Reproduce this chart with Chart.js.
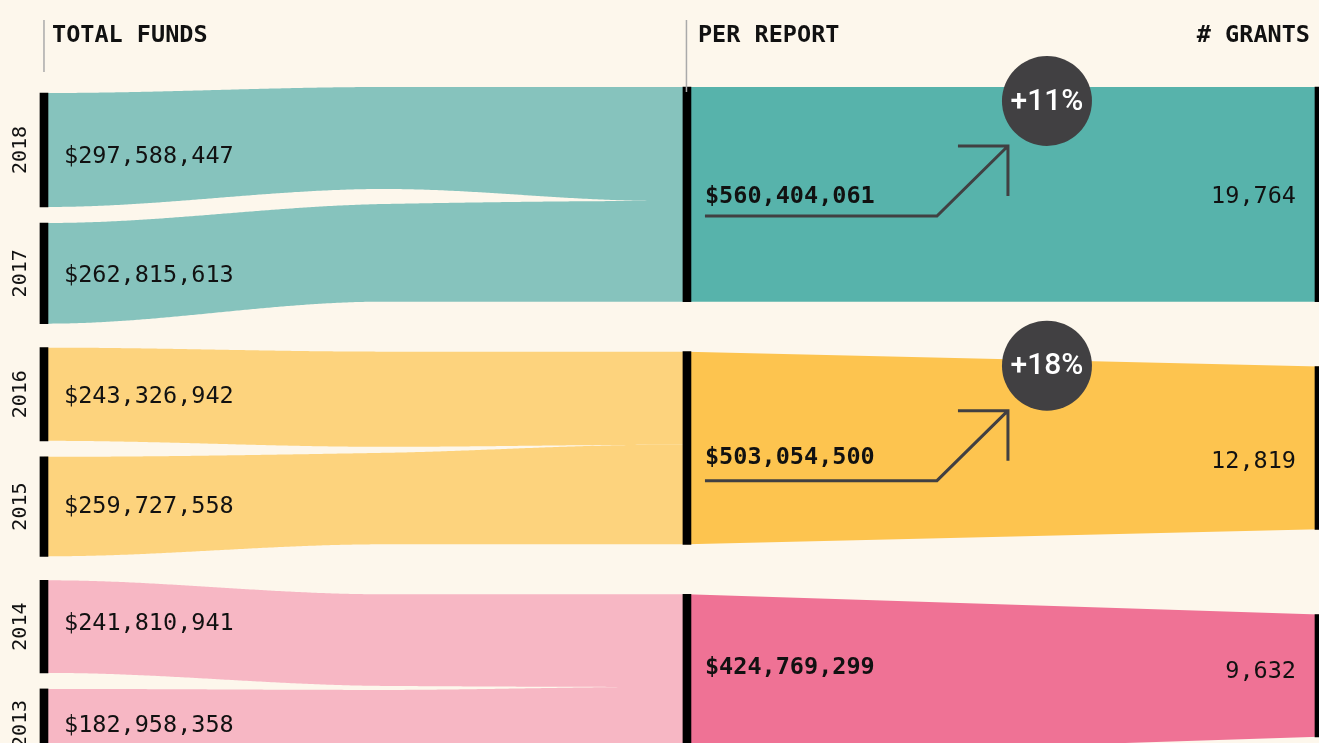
<!DOCTYPE html>
<html>
<head>
<meta charset="utf-8">
<script src="https://cdn.jsdelivr.net/npm/chart.js@4.4.1/dist/chart.umd.min.js"></script>
<style>
  html, body { margin: 0; padding: 0; background: #fdf7ec; }
  #wrap { width: 1319px; height: 743px; position: relative; }
</style>
</head>
<body>
<div id="wrap"><canvas id="sankey"></canvas></div>
<script>
// values
const years = ['2018', '2017', '2016', '2015', '2014', '2013'];
const totalFunds = [297588447, 262815613, 243326942, 259727558, 241810941, 182958358];
const perReport = [560404061, 503054500, 424769299];
const grants = [19764, 12819, 9632];
const headers = ['TOTAL FUNDS', 'PER REPORT', '# GRANTS'];

const lightColors = ['#86c3bd', '#fdd37d', '#f7b7c4'];
const darkColors = ['#57b3ab', '#fdc44f', '#ef7295'];
const ink = '#111';
const badgeColor = '#414042';

// layout (pixels converted to value units through K)
const K = 0.383;                 // px per million dollars
const toVal = p => p / K;
const M = v => v / 1e6;
const Y_MAX = toVal(743);
const LEFT_TOP = 93, PAIR_GAP = 16, GROUP_GAP = 24;
const MID_TOP = 87, MID_GAP = 50;
const GRANT_PX = 0.0127;
const X_COL = [0, 1, 1.983];
const X_WAIST = 0.53, X_CLOSE = 0.965;
const waistGap = [15, 6, 4];
const waistDrop = [3, 8, 3];
const leftLabelShift = [5, 0, 0, -2, -5, 0];
const midLabelShift = [0, 8, -10];
const rightLabelShift = [0, 12, -6];

// node ranges in value units
const leftNodes = [];
let cur = toVal(LEFT_TOP);
totalFunds.forEach((v, i) => {
    const h = M(v);
    leftNodes.push([cur, cur + h]);
    cur += h + toVal(i % 2 === 0 ? PAIR_GAP : GROUP_GAP);
});

const midNodes = [];
cur = toVal(MID_TOP);
perReport.forEach(v => {
    const h = M(v);
    midNodes.push([cur, cur + h]);
    cur += h + toVal(MID_GAP);
});

const rightNodes = grants.map((g, i) => {
    const [a, b] = midNodes[i];
    const h = Math.min(b - a, toVal(g * GRANT_PX));
    const c = (a + b) / 2;
    return [c - h / 2, c + h / 2];
});

// where each year's flow lands on the middle column
const linkTargets = totalFunds.map((v, i) => {
    const g = Math.floor(i / 2);
    const [a, b] = midNodes[g];
    if (i % 2 === 0) return [a, a + M(v)];
    return [a + M(totalFunds[i - 1]), b];
});

const fmt = n => n.toLocaleString('en-US');

// smooth monotone curve through a few [x, y] knots, flat outside them
function smoothEdge(pts) {
    const n = pts.length;
    const d = [], m = [];
    for (let i = 0; i < n - 1; i++) d.push((pts[i + 1][1] - pts[i][1]) / (pts[i + 1][0] - pts[i][0]));
    for (let i = 0; i < n; i++) {
        if (i === 0 || i === n - 1) { m.push(0); continue; }
        const a = d[i - 1], b = d[i];
        m.push(a * b > 0 ? 2 * a * b / (a + b) : 0);
    }
    return x => {
        if (x <= pts[0][0]) return pts[0][1];
        if (x >= pts[n - 1][0]) return pts[n - 1][1];
        let i = 0;
        while (x > pts[i + 1][0]) i++;
        const h = pts[i + 1][0] - pts[i][0];
        const t = (x - pts[i][0]) / h;
        const t2 = t * t, t3 = t2 * t;
        return (2 * t3 - 3 * t2 + 1) * pts[i][1] + (t3 - 2 * t2 + t) * h * m[i]
            + (-2 * t3 + 3 * t2) * pts[i + 1][1] + (t3 - t2) * h * m[i + 1];
    };
}

function fillBand(ctx, xs, xe, top, bottom, color) {
    ctx.beginPath();
    ctx.moveTo(xs, top(xs));
    for (let xx = xs; xx <= xe; xx += 2) ctx.lineTo(xx, top(xx));
    ctx.lineTo(xe, top(xe));
    ctx.lineTo(xe, bottom(xe));
    for (let xx = xe; xx >= xs; xx -= 2) ctx.lineTo(xx, bottom(xx));
    ctx.lineTo(xs, bottom(xs));
    ctx.closePath();
    ctx.fillStyle = color;
    ctx.fill();
}

// flows from the yearly column to the middle column
const linkPlugin = {
    id: 'links',
    beforeDatasetsDraw(chart) {
        const {ctx, scales: {x, y}} = chart;
        const cL = x.getPixelForValue(X_COL[0]);
        const cM = x.getPixelForValue(X_COL[1]);
        const x0 = cL + 4, x1 = cM - 4;
        const xw = x0 + X_WAIST * (x1 - x0);
        const xc = x0 + X_CLOSE * (x1 - x0);
        const px = r => r.map(v => y.getPixelForValue(v));

        ctx.save();
        perReport.forEach((tot, g) => {
            const u = 2 * g, l = 2 * g + 1;
            const sU = px(leftNodes[u]), sL = px(leftNodes[l]);
            const tU = px(linkTargets[u]), tL = px(linkTargets[l]);
            const lTopW = tL[0] + waistDrop[g];
            const uTop = smoothEdge([[x0, sU[0]], [xw, tU[0]]]);
            const uBot = smoothEdge([[x0, sU[1]], [xw, lTopW - waistGap[g]], [xc, tU[1]]]);
            const lTop = smoothEdge([[x0, sL[0]], [xw, lTopW], [xc, tL[0]]]);
            const lBot = smoothEdge([[x0, sL[1]], [xw, tL[1]]]);
            fillBand(ctx, cL, cM, uTop, uBot, lightColors[g]);
            fillBand(ctx, cL, cM, lTop, lBot, lightColors[g]);
        });
        ctx.restore();
    }
};

// texts, headers, arrows and growth badges
const textPlugin = {
    id: 'texts',
    afterDatasetsDraw(chart) {
        const {ctx, scales: {x, y}} = chart;
        const cL = x.getPixelForValue(X_COL[0]);
        const cM = x.getPixelForValue(X_COL[1]);
        const cR = x.getPixelForValue(X_COL[2]);
        const mid = r => (y.getPixelForValue(r[0]) + y.getPixelForValue(r[1])) / 2;
        ctx.save();

        // header rules
        ctx.strokeStyle = '#aaa';
        ctx.lineWidth = 1.5;
        ctx.beginPath();
        ctx.moveTo(cL, 20); ctx.lineTo(cL, 72);
        ctx.moveTo(cM - 0.5, 20); ctx.lineTo(cM - 0.5, 92);
        ctx.stroke();

        ctx.fillStyle = ink;
        ctx.font = 'bold 23.5px "DejaVu Sans Mono"';
        ctx.textBaseline = 'alphabetic';
        ctx.textAlign = 'left';
        ctx.fillText(headers[0], cL + 8, 42);
        ctx.fillText(headers[1], cM + 11, 42);
        ctx.textAlign = 'right';
        ctx.fillText(headers[2], cR - 9, 42);

        // yearly amounts
        ctx.font = '23.5px "DejaVu Sans Mono"';
        ctx.textAlign = 'left';
        totalFunds.forEach((v, i) => {
            ctx.fillText('$' + fmt(v), cL + 20, mid(leftNodes[i]) + 8.5 + leftLabelShift[i]);
        });

        // year labels
        ctx.font = '20px "DejaVu Sans Mono"';
        ctx.textAlign = 'center';
        years.forEach((yr, i) => {
            ctx.save();
            ctx.translate(cL - 25, mid(leftNodes[i]));
            ctx.rotate(-Math.PI / 2);
            ctx.fillText(yr, 0, 7);
            ctx.restore();
        });

        // per report totals
        ctx.font = 'bold 23.5px "DejaVu Sans Mono"';
        ctx.textAlign = 'left';
        perReport.forEach((v, i) => {
            ctx.fillText('$' + fmt(v), cM + 18, mid(midNodes[i]) + 8.5 + midLabelShift[i]);
        });

        // grants
        ctx.font = '23.5px "DejaVu Sans Mono"';
        ctx.textAlign = 'right';
        grants.forEach((g, i) => {
            ctx.fillText(fmt(g), cR - 23, mid(rightNodes[i]) + 8.5 + rightLabelShift[i]);
        });

        // growth arrows between consecutive reports
        perReport.forEach((v, i) => {
            if (i === perReport.length - 1) return;
            const growth = Math.round((v / perReport[i + 1] - 1) * 100);
            const top = y.getPixelForValue(midNodes[i][0]);
            const ay = top + 129;
            const sx = cM + 18, kx = cM + 250, tx = cM + 321, ty = ay - 70;
            ctx.strokeStyle = badgeColor;
            ctx.lineWidth = 3;
            ctx.lineJoin = 'miter';
            ctx.beginPath();
            ctx.moveTo(sx, ay); ctx.lineTo(kx, ay); ctx.lineTo(tx, ty);
            ctx.moveTo(tx - 50, ty); ctx.lineTo(tx, ty); ctx.lineTo(tx, ty + 50);
            ctx.stroke();

            const bx = cM + 360, by = top + 14;
            ctx.fillStyle = badgeColor;
            ctx.beginPath();
            ctx.arc(bx, by, 45, 0, Math.PI * 2);
            ctx.fill();
            ctx.fillStyle = '#fff';
            ctx.font = '500 30px Roboto';
            ctx.textAlign = 'center';
            ctx.textBaseline = 'middle';
            ctx.fillText('+' + growth + '%', bx, by + 1);
            ctx.textBaseline = 'alphabetic';
            ctx.fillStyle = ink;
        });
        ctx.restore();
    }
};

// dark bands from the middle column to the grants column
const bandSets = [];
perReport.forEach((v, i) => {
    bandSets.push({
        type: 'line', order: 2,
        data: [{x: X_COL[1], y: midNodes[i][0]}, {x: X_COL[2], y: rightNodes[i][0]}],
        borderWidth: 0, borderColor: 'transparent', pointRadius: 0, fill: false
    });
    bandSets.push({
        type: 'line', order: 2,
        data: [{x: X_COL[1], y: midNodes[i][1]}, {x: X_COL[2], y: rightNodes[i][1]}],
        borderWidth: 0, borderColor: 'transparent', pointRadius: 0,
        fill: '-1', backgroundColor: darkColors[i]
    });
});

const barStyle = {
    type: 'bar', order: 0, backgroundColor: '#000', borderWidth: 0,
    barThickness: 8, grouped: false
};

const barSets = [
    Object.assign({data: leftNodes.map(n => ({x: X_COL[0], y: n}))}, barStyle),
    Object.assign({data: midNodes.map(n => ({x: X_COL[1], y: n}))}, barStyle),
    Object.assign({data: rightNodes.map(n => ({x: X_COL[2], y: n}))}, barStyle)
];

new Chart(document.getElementById('sankey'), {
    type: 'bar',
    data: {datasets: bandSets.concat(barSets)},
    options: {
        responsive: true,
        maintainAspectRatio: false,
        animation: false,
        events: [],
        layout: {padding: 0},
        plugins: {legend: {display: false}, tooltip: {enabled: false}},
        scales: {
            x: {type: 'linear', display: false, offset: false, min: -0.0684, max: 1.983},
            y: {type: 'linear', display: false, min: 0, max: Y_MAX, reverse: true}
        }
    },
    plugins: [linkPlugin, textPlugin]
});
</script>
</body>
</html>
